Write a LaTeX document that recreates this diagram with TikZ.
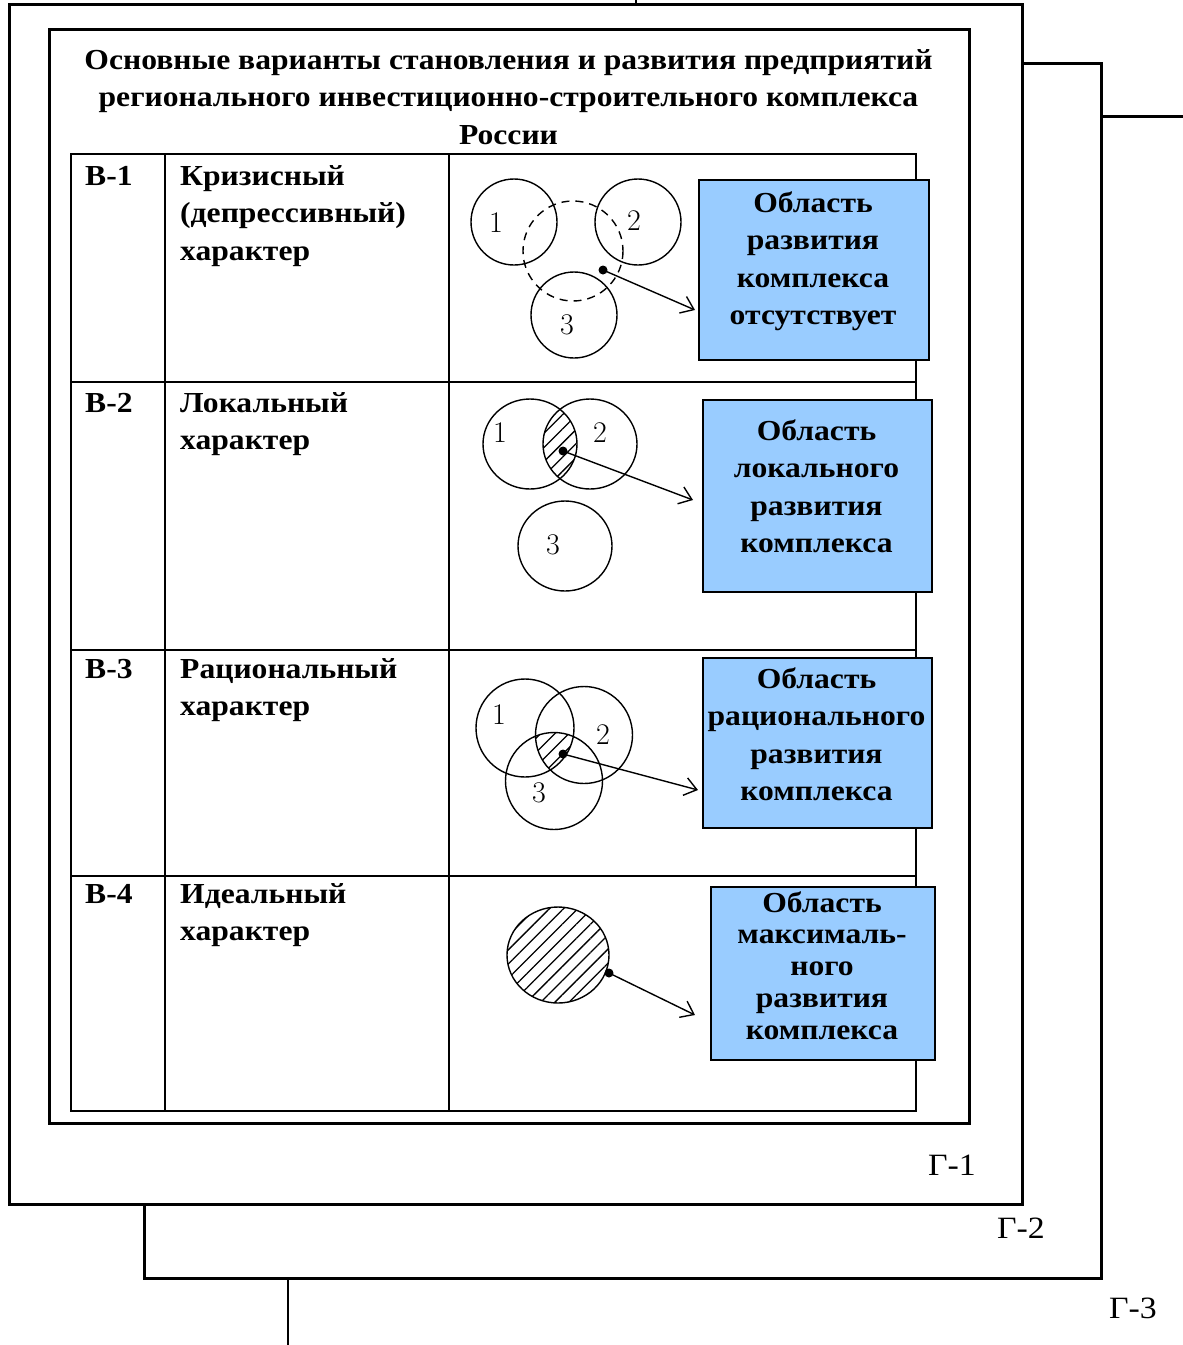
\documentclass[tikz,border=0pt]{standalone}
\usepackage{fontspec}
\setmainfont{Liberation Serif}[FakeStretch=1.09]
\newfontfamily\digfont{Latin Modern Roman}
\usetikzlibrary{arrows.meta,patterns.meta}
\definecolor{boxblue}{HTML}{99CCFF}
\newcommand\tfont{\fontsize{29}{37.5}\selectfont\bfseries}
\newcommand\tfontb{\fontsize{29}{31.75}\selectfont\bfseries}
\begin{document}
\begin{tikzpicture}[x=1pt,y=-1pt,
  frame/.style={line width=3pt},
  tbl/.style={line width=1.6pt},
  circ/.style={line width=1.4pt},
  dashc/.style={line width=1.4pt, dash pattern=on 8pt off 6pt},
  hatch/.style={pattern={Lines[angle=45,distance=10pt,line width=1.3pt]}},
  box/.style={draw, line width=1.8pt, fill=boxblue, inner sep=0, anchor=north west},
  ctext/.style={inner sep=0, anchor=north, yshift=26.25pt, align=center, font=\tfont},
  ctextb/.style={inner sep=0, anchor=north, yshift=22.225pt, align=center, font=\tfontb},
  ltext/.style={inner sep=0, anchor=north west, yshift=26.25pt, align=left, font=\tfont},
  code/.style={inner sep=0, anchor=base west, font=\tfont},
  glab/.style={inner sep=0, anchor=base west, font=\fontsize{31}{38}\selectfont},
  dig/.style={inner sep=0, font=\digfont\fontsize{30}{36}\selectfont},
  arr/.style={line width=1.4pt, -{Straight Barb[length=12pt,width=18pt]}}
]
\useasboundingbox (0,0) rectangle (1183,1345);
% outer sheets
\draw[frame] (1101,116) -- (1183,116);
\draw[line width=2.4pt] (288,1278) -- (288,1345);
\draw[frame] (1022,63) -- (1101,63) -- (1101,1278) -- (144,1278) -- (144,1204);
\draw[frame, fill=white] (9,4) rectangle (1022,1204);
\draw[line width=1.5pt] (636,0) -- (636,4);
\draw[frame] (49,29) rectangle (969,1123);
\node[glab] (g1) at (928,1175) {Г-1};
\node[glab] (g2) at (997,1238) {Г-2};
\node[glab] (g3) at (1109,1318) {Г-3};
% title
\node[ctext] (title) at (508.5,69) {\strut Основные варианты становления и развития предприятий\\
регионального инвестиционно-строительного комплекса\\ России};
% table
\draw[tbl] (71,154) rectangle (916,1111);
\draw[tbl] (165,154) -- (165,1111);
\draw[tbl] (449,154) -- (449,1111);
\draw[tbl] (71,382) -- (916,382);
\draw[tbl] (71,650) -- (916,650);
\draw[tbl] (71,876) -- (916,876);
% row texts
\node[code] (v1) at (85,185) {В-1};
\node[code] (v2) at (85,412) {В-2};
\node[code] (v3) at (85,678) {В-3};
\node[code] (v4) at (85,903) {В-4};
\node[ltext] (r1) at (180,185) {\strut Кризисный\\ (депрессивный)\\ характер};
\node[ltext] (r2) at (180,412) {\strut Локальный\\ характер};
\node[ltext] (r3) at (180,678) {\strut Рациональный\\ характер};
\node[ltext] (r4) at (180,903) {\strut Идеальный\\ характер};
% boxes
\node[box, minimum width=230, minimum height=180] (b1) at (698,179) {};
\node[box, minimum width=229, minimum height=192] (b2) at (702,399) {};
\node[box, minimum width=229, minimum height=170] (b3) at (702,657) {};
\node[box, minimum width=224, minimum height=173] (b4) at (710,886) {};
\node[ctext] (t1) at (813,212) {\strut Область\\ развития\\ комплекса\\ отсутствует};
\node[ctext] (t2) at (816.5,440) {\strut Область\\ локального\\ развития\\ комплекса};
\node[ctext] (t3) at (816.5,688) {\strut Область\\ рационального\\ развития\\ комплекса};
\node[ctextb] (t4) at (822,912) {\strut Область\\ максималь-\\ ного\\ развития\\ комплекса};
% row 1 circles
\draw[circ] (514,222) circle[radius=43];
\draw[circ] (638,222) circle[radius=43];
\draw[circ] (574,315) circle[radius=43];
\draw[dashc] (573,251) circle[radius=50];
\node[dig] (n11) at (496,223) {1};
\node[dig] (n12) at (634,221) {2};
\node[dig] (n13) at (567,325) {3};
\coordinate (d1) at (603,270);
\coordinate (e1) at (695,310);
\draw[arr] (d1) -- (e1);
\fill (d1) circle[radius=4.5];
% row 2 circles
\begin{scope}
\clip (530,444) ellipse[x radius=47, y radius=45];
\fill[hatch] (590,444) ellipse[x radius=47, y radius=45];
\end{scope}
\draw[circ] (530,444) ellipse[x radius=47, y radius=45];
\draw[circ] (590,444) ellipse[x radius=47, y radius=45];
\draw[circ] (565,546) ellipse[x radius=47, y radius=45];
\node[dig] (n21) at (500,433) {1};
\node[dig] (n22) at (600,433) {2};
\node[dig] (n23) at (553,545) {3};
\coordinate (d2) at (563,451);
\coordinate (e2) at (693,500);
\draw[arr] (d2) -- (e2);
\fill (d2) circle[radius=4.5];
% row 3 circles
\begin{scope}
\clip (525,728) circle[radius=49];
\clip (584,735) circle[radius=48.5];
\fill[hatch] (554,781) circle[radius=48.5];
\end{scope}
\draw[circ] (525,728) circle[radius=49];
\draw[circ] (584,735) circle[radius=48.5];
\draw[circ] (554,781) circle[radius=48.5];
\node[dig] (n31) at (499,715) {1};
\node[dig] (n32) at (603,735) {2};
\node[dig] (n33) at (539,793) {3};
\coordinate (d3) at (563,754);
\coordinate (e3) at (698,790);
\draw[arr] (d3) -- (e3);
\fill (d3) circle[radius=4.5];
% row 4 circle
\fill[hatch] (558,955) ellipse[x radius=51, y radius=48];
\draw[circ] (558,955) ellipse[x radius=51, y radius=48];
\coordinate (d4) at (609,973);
\coordinate (e4) at (695,1015);
\draw[arr] (d4) -- (e4);
\fill (d4) circle[radius=4.5];
\end{tikzpicture}
\end{document}
